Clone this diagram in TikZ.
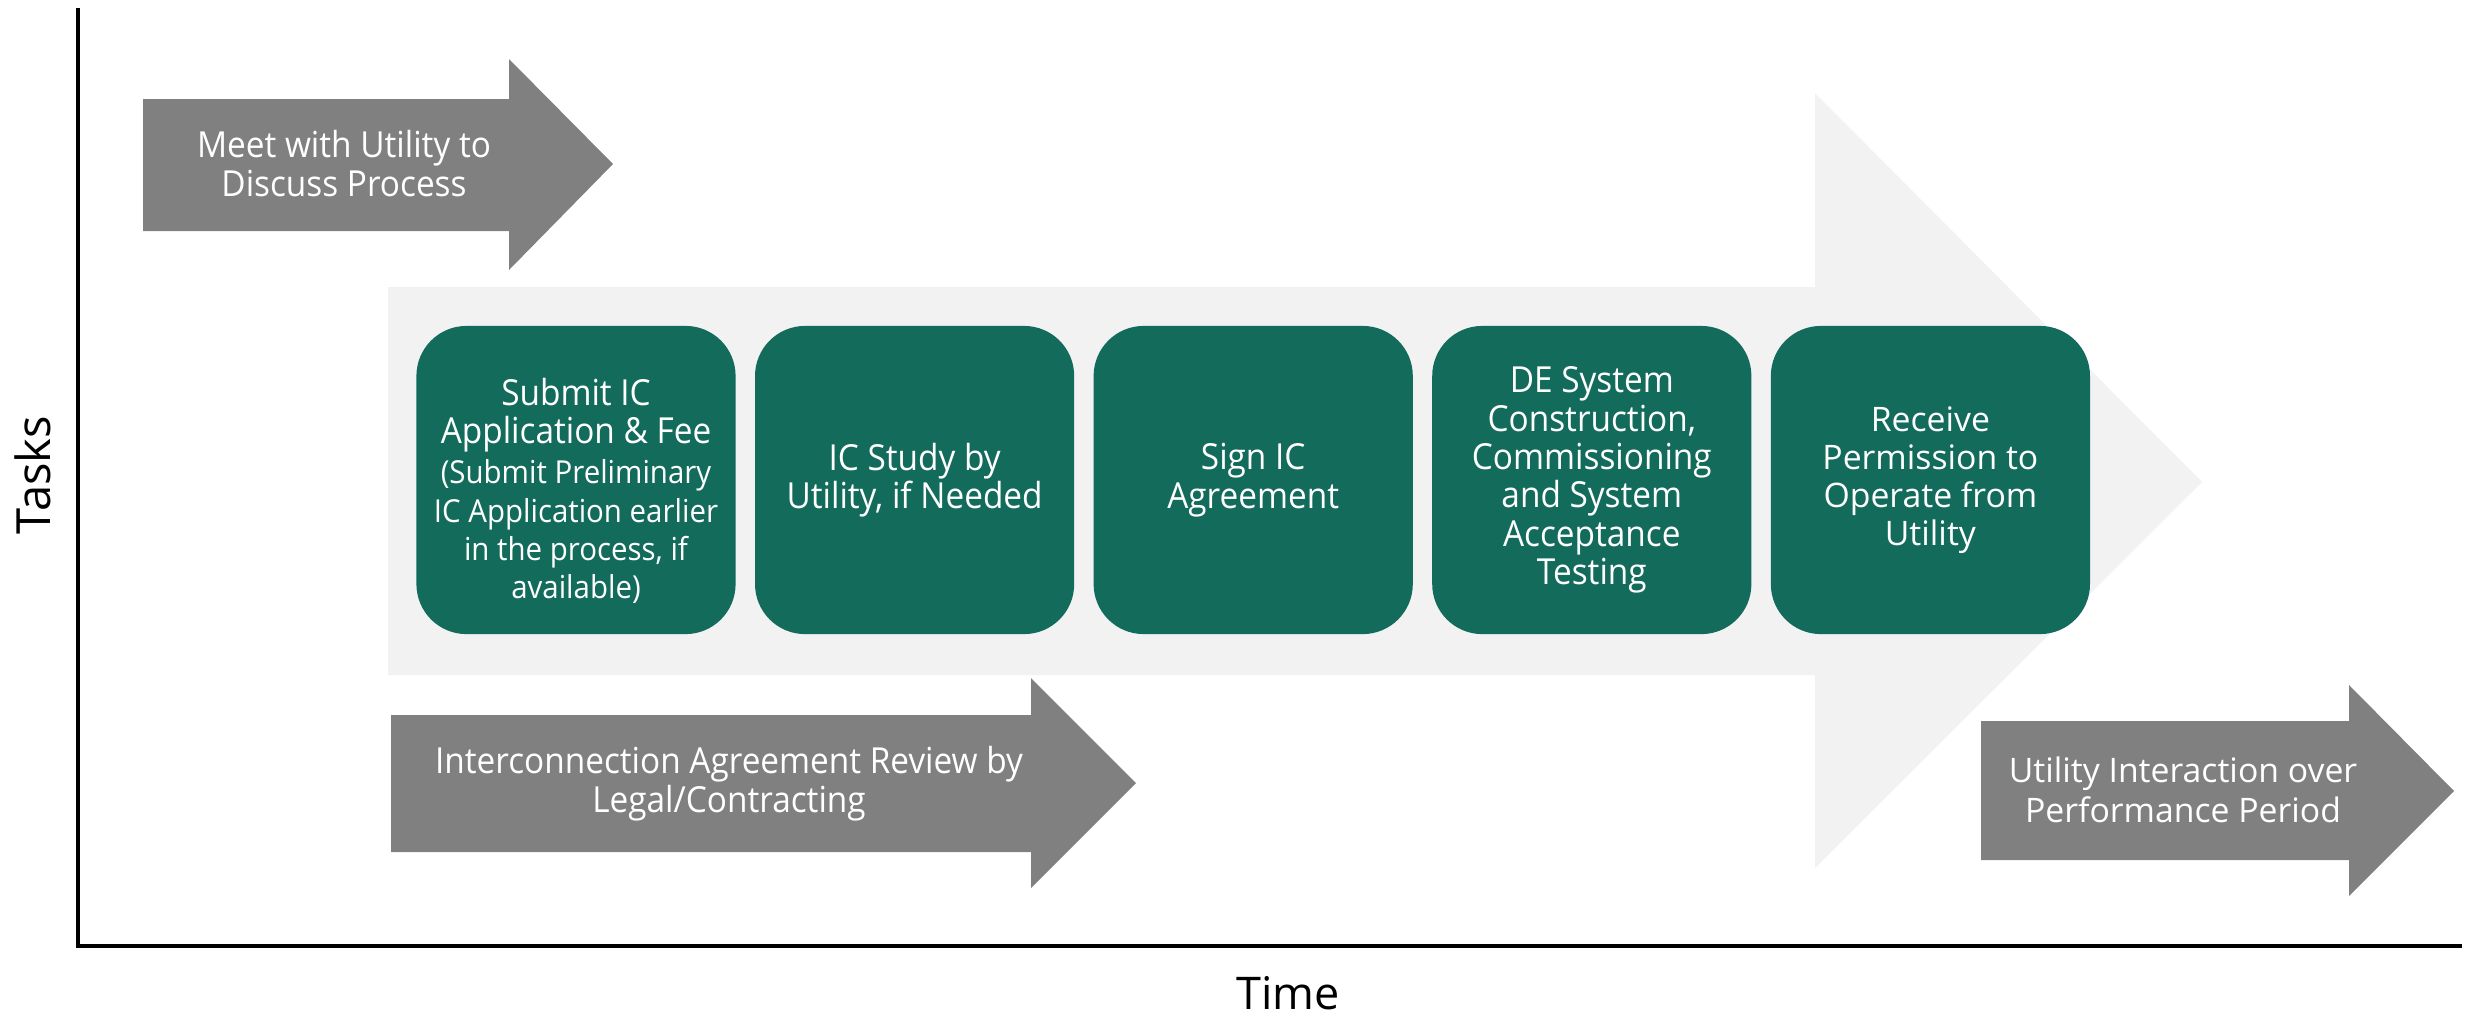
\documentclass[tikz,border=0pt]{standalone}
\usepackage{fontspec}
\setmainfont{Open Sans}
\newfontfamily\narrowfont[FakeStretch=0.93]{Open Sans}
\usetikzlibrary{positioning}
\definecolor{icgreen}{HTML}{136B5B}
\definecolor{stepgray}{HTML}{808080}
\definecolor{flowgray}{HTML}{F2F2F2}
\newcommand\smallnote{\fontsize{9}{8.5}\selectfont}
\begin{document}
\begin{tikzpicture}[x = 0.01cm, y = -0.01cm,
    stepbox/.style = {fill = icgreen, rounded corners = 0.5cm, minimum width = 3.19cm,
        minimum height = 3.08cm, inner sep = 0pt, text = white, align = center,
        font = \narrowfont\fontsize{10.2}{10.9}\selectfont},
    grayarrow/.style = {fill = stepgray},
    arrowtext/.style = {text = white, align = center, font = \narrowfont\fontsize{10.2}{11.1}\selectfont},
    axis/.style = {line width = 0.04cm}]
    \useasboundingbox (0, 0) rectangle (2466, 1017);
    % large background arrow
    \fill[flowgray] (388, 287) -- (1815, 287) -- (1815, 93) -- (2202, 482)
        -- (1815, 868) -- (1815, 675) -- (388, 675) -- cycle;
    % gray task arrows
    \fill[grayarrow] (143, 99) -- (509, 99) -- (509, 59) -- (613, 164)
        -- (509, 270) -- (509, 231) -- (143, 231) -- cycle;
    \fill[grayarrow] (391, 715) -- (1031, 715) -- (1031, 678) -- (1136, 783)
        -- (1031, 888) -- (1031, 852) -- (391, 852) -- cycle;
    \fill[grayarrow] (1981, 721) -- (2349, 721) -- (2349, 685) -- (2454, 791)
        -- (2349, 896) -- (2349, 860) -- (1981, 860) -- cycle;
    \node[arrowtext] (meet) at (344, 164) {Meet with Utility to\\Discuss Process};
    \node[arrowtext] (review) at (729, 784) {Interconnection Agreement Review by\\Legal/Contracting};
    \node[arrowtext, font = \fontsize{9.6}{11.3}\selectfont] (perf) at (2183, 790)
        {Utility Interaction over\\Performance Period};
    % green steps
    \node[stepbox] (submit) at (576, 480) {\rule{0pt}{14pt}Submit IC\\Application \& Fee\\[0.5pt]
        \smallnote(Submit Preliminary\\\smallnote IC Application earlier\\
        \smallnote in the process, if\\\smallnote available)};
    \node[stepbox, right = 0.18cm of submit] (study) {IC Study by\\Utility, if Needed};
    \node[stepbox, right = 0.18cm of study] (sign) {Sign IC\\Agreement};
    \node[stepbox, right = 0.18cm of sign] (build) {DE System\\Construction,\\Commissioning\\and System\\Acceptance\\Testing};
    \node[stepbox, right = 0.18cm of build, font = \fontsize{9.6}{10.8}\selectfont] (pto)
        {Receive\\Permission to\\Operate from\\Utility};
    % axes
    \coordinate (top) at (78, 8);
    \coordinate (origin) at (78, 946);
    \coordinate (end) at (2462, 946);
    \draw[axis] (top) -- (origin) -- (end);
    \node[rotate = 90, font = \fontsize{13.4}{16}\selectfont] (tasks) at (33, 475) {Tasks};
    \node[font = \fontsize{12.8}{15}\selectfont] (time) at (1288, 993) {Time};
\end{tikzpicture}
\end{document}
